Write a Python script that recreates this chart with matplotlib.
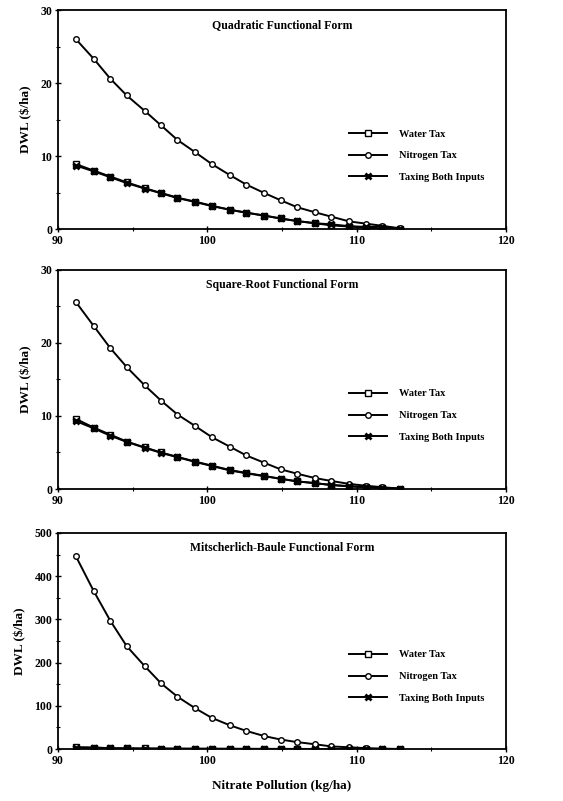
import matplotlib
matplotlib.use("Agg")
import matplotlib.pyplot as plt
from matplotlib.ticker import MultipleLocator

plt.rcParams['font.family'] = ['Liberation Serif', 'DejaVu Serif']
plt.rcParams['font.weight'] = 'bold'

# nitrate pollution levels (kg/ha), same for all three panels
pollution = [91.2, 92.4, 93.5, 94.6, 95.8, 96.9, 98.0, 99.2, 100.3, 101.5,
             102.6, 103.8, 104.9, 106.0, 107.2, 108.3, 109.5, 110.6, 111.7, 112.9]

# Quadratic functional form
quad_water = [8.9, 8.0, 7.2, 6.4, 5.6, 4.95, 4.3, 3.75, 3.2, 2.65,
              2.25, 1.85, 1.45, 1.1, 0.8, 0.5, 0.35, 0.2, 0.1, 0.0]
quad_nitrogen = [26.0, 23.3, 20.6, 18.3, 16.2, 14.2, 12.2, 10.5, 8.9, 7.4,
                 6.1, 4.95, 3.95, 3.0, 2.3, 1.7, 1.05, 0.75, 0.45, 0.1]
quad_both = [8.7, 7.9, 7.1, 6.3, 5.55, 4.9, 4.25, 3.7, 3.15, 2.65,
             2.25, 1.85, 1.45, 1.1, 0.8, 0.65, 0.4, 0.3, 0.35, 0.05]

# Square-root functional form
sqrt_water = [9.6, 8.4, 7.45, 6.5, 5.7, 5.0, 4.4, 3.75, 3.2, 2.6,
              2.2, 1.8, 1.4, 1.05, 0.8, 0.55, 0.35, 0.25, 0.15, 0.05]
sqrt_nitrogen = [25.6, 22.3, 19.3, 16.7, 14.2, 12.1, 10.2, 8.6, 7.1, 5.8,
                 4.6, 3.6, 2.7, 2.1, 1.5, 1.1, 0.7, 0.45, 0.25, 0.05]
sqrt_both = [9.3, 8.3, 7.3, 6.45, 5.65, 4.95, 4.35, 3.7, 3.15, 2.55,
             2.15, 1.75, 1.4, 1.05, 0.8, 0.55, 0.4, 0.25, 0.15, 0.05]

# Mitscherlich-Baule functional form
mb_water = [4.0, 3.5, 2.0, 1.5, 1.2, 1.0, 0.8, 0.7, 0.6, 0.5,
            0.4, 0.3, 0.2, 0.2, 0.1, 0.1, 0.1, 0.05, 0.02, 0.0]
mb_nitrogen = [446, 365, 297, 238, 192, 152, 121, 94, 72, 55,
               42, 30, 22, 16, 11, 6, 4, 2, 1, 0]
mb_both = [3.5, 3.0, 1.8, 1.3, 1.0, 0.9, 0.7, 0.6, 0.5, 0.4,
           0.3, 0.25, 0.2, 0.15, 0.1, 0.1, 0.05, 0.05, 0.02, 0.0]

titles = ["Quadratic Functional Form", "Square-Root Functional Form",
          "Mitscherlich-Baule Functional Form"]
series = [(quad_water, quad_nitrogen, quad_both),
          (sqrt_water, sqrt_nitrogen, sqrt_both),
          (mb_water, mb_nitrogen, mb_both)]
ymax = [30, 30, 500]
ystep = [10, 10, 100]

fig = plt.figure(figsize=(5.63, 8.01), dpi=100)
boxes = [[0.103, 0.714, 0.796, 0.2735],
         [0.103, 0.3895, 0.796, 0.2735],
         [0.103, 0.0649, 0.796, 0.2697]]

for i in range(3):
    ax = fig.add_axes(boxes[i])
    water, nitrogen, both = series[i]
    ax.plot(pollution, water, color='black', lw=1.4, marker='s', ms=4,
            mfc='white', mec='black', mew=1.0, label='Water Tax')
    ax.plot(pollution, nitrogen, color='black', lw=1.4, marker='o', ms=4,
            mfc='white', mec='black', mew=1.0, label='Nitrogen Tax')
    ax.plot(pollution, both, color='black', lw=1.4, marker='x', ms=4.5,
            mec='black', mew=2.0, label='Taxing Both Inputs')

    ax.set_xlim(90, 120)
    ax.set_ylim(0, ymax[i])
    ax.xaxis.set_major_locator(MultipleLocator(10))
    ax.xaxis.set_minor_locator(MultipleLocator(5))
    ax.yaxis.set_major_locator(MultipleLocator(ystep[i]))
    ax.yaxis.set_minor_locator(MultipleLocator(ystep[i] / 2))
    ax.tick_params(which='major', direction='inout', length=4, width=1.0,
                   labelsize=8.5, pad=2)
    ax.tick_params(which='minor', direction='inout', length=2.5, width=0.8)
    for s in ax.spines.values():
        s.set_linewidth(1.3)

    ax.set_ylabel("DWL ($/ha)", fontsize=9.5, fontweight='bold', labelpad=6)
    ax.text(0.5, 0.93, titles[i], transform=ax.transAxes, ha='center',
            va='center', fontsize=8.5, fontweight='bold')
    ax.legend(loc='center left', bbox_to_anchor=(0.65, 0.335), frameon=False,
              fontsize=7.5, handlelength=3.6, handletextpad=1.2,
              labelspacing=1.2, borderpad=0, borderaxespad=0)

    if i == 2:
        ax.set_xlabel("Nitrate Pollution (kg/ha)", fontsize=9.5,
                      fontweight='bold', labelpad=10)

fig.savefig("out.png", dpi=100)
